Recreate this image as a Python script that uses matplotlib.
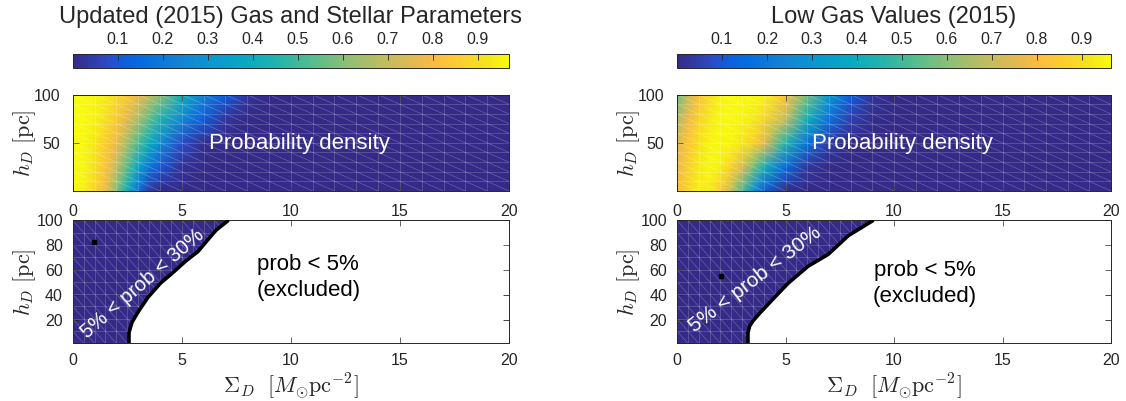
import numpy as np
import matplotlib
matplotlib.use("Agg")
import matplotlib.pyplot as plt
from matplotlib.colors import LinearSegmentedColormap, Normalize
from matplotlib.collections import LineCollection
from matplotlib.cm import ScalarMappable

#----- Data -----#

sigma_grid = [0, 0.5, 1, 1.5, 2, 2.5, 3, 3.5, 4, 5, 6, 7, 8, 9, 10, 20]
h_grid = [1, 25, 50, 75, 100]

# probability density, rows = h_grid, columns = sigma_grid
dens_updated = [
    [0.97, 0.95, 0.88, 0.78, 0.60, 0.40, 0.18, 0.04, 0.00, 0.00, 0.00, 0.00, 0.00, 0, 0, 0],
    [0.97, 0.96, 0.91, 0.83, 0.70, 0.54, 0.36, 0.20, 0.10, 0.02, 0.00, 0.00, 0.00, 0, 0, 0],
    [0.97, 0.96, 0.93, 0.86, 0.78, 0.65, 0.52, 0.40, 0.27, 0.08, 0.01, 0.00, 0.00, 0, 0, 0],
    [0.97, 0.97, 0.95, 0.91, 0.85, 0.76, 0.66, 0.55, 0.45, 0.26, 0.11, 0.03, 0.00, 0, 0, 0],
    [0.97, 0.97, 0.96, 0.94, 0.90, 0.85, 0.78, 0.70, 0.62, 0.42, 0.24, 0.11, 0.03, 0, 0, 0],
]
dens_lowgas = [
    [0.80, 0.88, 0.94, 0.93, 0.84, 0.70, 0.52, 0.30, 0.12, 0.01, 0.00, 0.00, 0.00, 0.00, 0, 0],
    [0.77, 0.86, 0.93, 0.96, 0.94, 0.86, 0.74, 0.58, 0.42, 0.15, 0.03, 0.00, 0.00, 0.00, 0, 0],
    [0.74, 0.83, 0.91, 0.95, 0.96, 0.95, 0.92, 0.86, 0.76, 0.45, 0.18, 0.04, 0.00, 0.00, 0, 0],
    [0.66, 0.78, 0.87, 0.93, 0.96, 0.96, 0.95, 0.93, 0.88, 0.70, 0.42, 0.18, 0.05, 0.01, 0, 0],
    [0.56, 0.70, 0.82, 0.90, 0.95, 0.96, 0.96, 0.96, 0.95, 0.82, 0.58, 0.32, 0.12, 0.03, 0, 0],
]
cmax_updated = 0.97
cmax_lowgas = 0.965

# 5% contour (boundary of allowed region)
bound_h_updated = [1, 9.6, 18, 27.4, 38, 49.3, 58, 67, 75, 83.6, 92, 100]
bound_sigma_updated = [2.58, 2.58, 2.72, 3.04, 3.45, 4.02, 4.6, 5.17, 5.75, 6.16, 6.57, 7.14]
bound_h_lowgas = [1, 9.6, 15, 19, 25, 38, 49.3, 63, 72.6, 87.7, 100]
bound_sigma_lowgas = [3.27, 3.27, 3.35, 3.5, 3.8, 4.5, 5.12, 6.04, 6.97, 7.9, 9.05]

# best-fit markers
best_updated = (0.99, 82.7)
best_lowgas = (2.04, 55.3)

titles = ["Updated (2015) Gas and Stellar Parameters", "Low Gas Values (2015)"]
cbar_ticks = [0.1, 0.2, 0.3, 0.4, 0.5, 0.6, 0.7, 0.8, 0.9]

#----- Style -----#

plt.rcParams['font.family'] = ['Liberation Sans', 'DejaVu Sans']
plt.rcParams['mathtext.fontset'] = 'cm'

TXT = "#262626"
NAVY = (0.2081, 0.1663, 0.5292)

# parula-like colormap
parula_pts = [
    (0, [0.2081, 0.1663, 0.5292]),
    (5, [0.1707, 0.2919, 0.7792]),
    (7, [0.0591, 0.3598, 0.8683]),
    (10, [0.0165, 0.4266, 0.8786]),
    (15, [0.0779, 0.5040, 0.8384]),
    (20, [0.0343, 0.5966, 0.8199]),
    (25, [0.0267, 0.6642, 0.7607]),
    (30, [0.1453, 0.7098, 0.6646]),
    (35, [0.3482, 0.7424, 0.5473]),
    (40, [0.5709, 0.7485, 0.4494]),
    (45, [0.7525, 0.7384, 0.3768]),
    (50, [0.9140, 0.7258, 0.3063]),
    (53, [0.9938, 0.7455, 0.2403]),
    (56, [0.9880, 0.8066, 0.1794]),
    (60, [0.9589, 0.8949, 0.1132]),
    (63, [0.9763, 0.9831, 0.0538]),
]
parula = LinearSegmentedColormap.from_list(
    "parula", [(i / 63, c) for i, c in parula_pts]
)


def mesh_segments(xs, ys):
    segs = []
    for i in range(len(xs) - 1):
        for j in range(len(ys) - 1):
            segs.append([(xs[i], ys[j]), (xs[i + 1], ys[j])])
            segs.append([(xs[i], ys[j]), (xs[i], ys[j + 1])])
            segs.append([(xs[i], ys[j + 1]), (xs[i + 1], ys[j])])
    return segs


def style_axes(ax, yticks, pad):
    ax.set_xlim(0, 20)
    ax.set_ylim(1, 100)
    ax.set_xticks([0, 5, 10, 15, 20])
    ax.set_yticks(yticks)
    ax.tick_params(direction="in", length=4, width=0.6, colors=TXT,
                   labelsize=11.5, top=True, right=True, pad=pad)
    for s in ax.spines.values():
        s.set_color(TXT)
        s.set_linewidth(0.7)
    ax.set_ylabel(r"$h_D\ [\mathrm{pc}]$", fontsize=16, color=TXT)
    ax.yaxis.set_label_coords(-0.08, 0.5)


#----- Figure -----#

fig = plt.figure(figsize=(11.26, 4.01), dpi=100)

W, H = 1126, 401
panels = [
    (72.7, 436.3, dens_updated, cmax_updated, bound_sigma_updated, bound_h_updated, best_updated, 41, (3.2, 49), 14.5),
    (677.0, 434.0, dens_lowgas, cmax_lowgas, bound_sigma_lowgas, bound_h_lowgas, best_lowgas, 37.5, (3.6, 52), 15),
]

for k, (x0, w, dens, cmax, b_sig, b_h, best, rot, rpos, rfs) in enumerate(panels):
    norm = Normalize(vmin=0, vmax=cmax)

    # colorbar
    cax = fig.add_axes([x0 / W, 1 - 67.7 / H, w / W, 13.7 / H])
    cb = fig.colorbar(ScalarMappable(norm=norm, cmap=parula), cax=cax,
                      orientation="horizontal", ticks=cbar_ticks)
    cax.xaxis.set_ticks_position("top")
    cax.xaxis.set_label_position("top")
    cax.tick_params(direction="in", length=4, width=0.6, colors=TXT,
                    labelsize=11.5, pad=5)
    cb.outline.set_edgecolor(TXT)
    cb.outline.set_linewidth(0.7)

    fig.text((x0 + w / 2) / W, 1 - 17 / H, titles[k], ha="center", va="center",
             fontsize=17, color=TXT)

    # top: probability density
    ax1 = fig.add_axes([x0 / W, 1 - 191 / H, w / W, 96.3 / H])
    ax1.pcolormesh(sigma_grid, h_grid, np.array(dens), cmap=parula, norm=norm,
                   shading="gouraud")
    ax1.add_collection(LineCollection(
        mesh_segments(np.arange(0, 20.01, 1), np.linspace(1, 100, 11)),
        colors="white", linewidths=0.5, alpha=0.25))
    ax1.text(10.4, 50, "Probability density", color="white", fontsize=16,
             ha="center", va="center")
    style_axes(ax1, [50, 100], pad=9)

    # bottom: excluded region
    ax2 = fig.add_axes([x0 / W, 1 - 343.3 / H, w / W, 123 / H])
    ax2.fill_betweenx(b_h, 0, b_sig, color=NAVY, lw=0, zorder=1)
    ax2.add_collection(LineCollection(
        mesh_segments(np.arange(0, 20.01, 0.5), np.linspace(1, 100, 11)),
        colors="white", linewidths=0.5, alpha=0.25, zorder=2))
    ax2.plot(b_sig, b_h, color="black", lw=2.6, zorder=3, solid_capstyle="butt")
    ax2.plot(*best, marker="s", color="black", ms=3.5, zorder=4)
    ax2.text(rpos[0], rpos[1], "5% < prob < 30%", color="white",
             fontsize=rfs, rotation=rot, ha="center", va="center",
             rotation_mode="anchor", zorder=5)
    ax2.text(10.8 if k == 0 else 11.4, 54 if k == 0 else 49,
             "prob < 5%\n(excluded)", color="black", fontsize=16,
             ha="center", va="center", linespacing=1.35, zorder=5)
    style_axes(ax2, [20, 40, 60, 80, 100], pad=7)
    ax2.set_xlabel(r"$\Sigma_D\ \ [M_{\odot}\mathrm{pc}^{-2}]$", fontsize=16,
                   color=TXT, labelpad=2)

fig.savefig("out.png", dpi=100)
